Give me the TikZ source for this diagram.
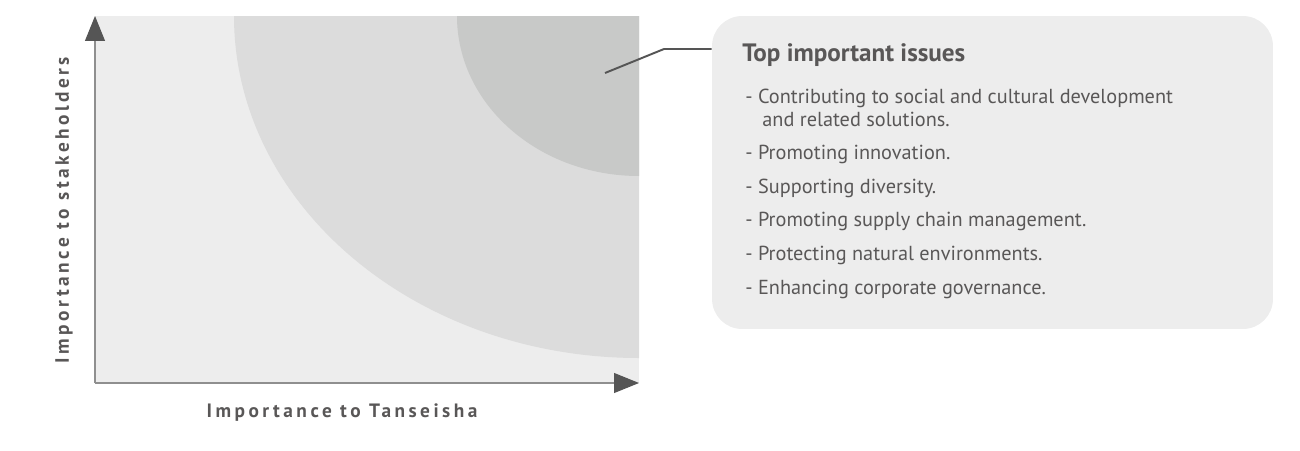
\documentclass[tikz,border=0pt]{standalone}
\usepackage{fontspec}
\usepackage{xcolor}
\usepackage{tikz}
\usetikzlibrary{arrows.meta, positioning, calc}
\setmainfont{PT Sans}
\newfontfamily\axisfont{PT Sans}[LetterSpace=18]
\definecolor{plotlight}{HTML}{EDEDED}
\definecolor{plotmid}{HTML}{DCDCDC}
\definecolor{plotcore}{HTML}{C8C9C8}
\definecolor{axisgray}{HTML}{8F8F8F}
\definecolor{axisdark}{HTML}{555555}
\definecolor{textgray}{HTML}{595757}
\definecolor{boxfill}{HTML}{EDEDED}

\begin{document}
\begin{tikzpicture}[x=0.02cm, y=-0.02cm,
    axis/.style={line width=0.6pt, axisgray,
      -{Triangle[length=0.5cm, width=0.4cm, color=axisdark]}},
    axislbl/.style={font=\axisfont\bfseries\fontsize{11pt}{12pt}\selectfont, text=textgray, inner sep=0pt},
    issuebox/.style={rectangle, rounded corners=0.6cm, fill=boxfill, draw=none,
      minimum width=11.22cm, minimum height=6.26cm},
    title/.style={anchor=base west, inner sep=0pt, text=textgray,
      font=\bfseries\fontsize{14.3pt}{15pt}\selectfont},
    item/.style={anchor=base west, inner sep=0pt, text=textgray,
      font=\fontsize{11.55pt}{13pt}\selectfont},
    leader/.style={line width=1.1pt, axisdark}]

    \useasboundingbox (0,0) rectangle (1300,450);

    % Matrix zones
    \fill[plotlight] (95,16) rectangle (639,383);
    \fill[plotmid] (639,16) -- (234,16) arc[start angle=180, end angle=90, x radius=405, y radius=342] -- cycle;
    \fill[plotcore] (639,16) -- (457,16) arc[start angle=180, end angle=90, x radius=182, y radius=160] -- cycle;

    % Axes
    \coordinate (origin) at (95,383);
    \coordinate (ytop) at (95,16);
    \coordinate (xend) at (639,383);
    \draw[axis] (origin) -- (ytop);
    \draw[axis] (origin) -- (xend);
    \node (xlbl) [axislbl] at (342,413) {Importance to Tanseisha};
    \node (ylbl) [axislbl, rotate=90] at (64,210) {Importance to stakeholders};

    % Issue list
    \node (issues) [issuebox] at (992.5,172.5) {};
    \node (title) [title] at (742,61) {Top important issues};
    \node (item1) [item] at (745,103) {- Contributing to social and cultural development};
    \node (item1b) [item] at (762,126) {and related solutions.};
    \node (item2) [item] at (745,159) {- Promoting innovation.};
    \node (item3) [item] at (745,193) {- Supporting diversity.};
    \node (item4) [item] at (745,226) {- Promoting supply chain management.};
    \node (item5) [item] at (745,260) {- Protecting natural environments.};
    \node (item6) [item] at (745,294) {- Enhancing corporate governance.};

    % Leader
    \coordinate (pointer) at (605,73);
    \coordinate (bend) at (664,49);
    \draw[leader] (pointer) -- (bend) -- (bend -| issues.west);
\end{tikzpicture}
\end{document}
